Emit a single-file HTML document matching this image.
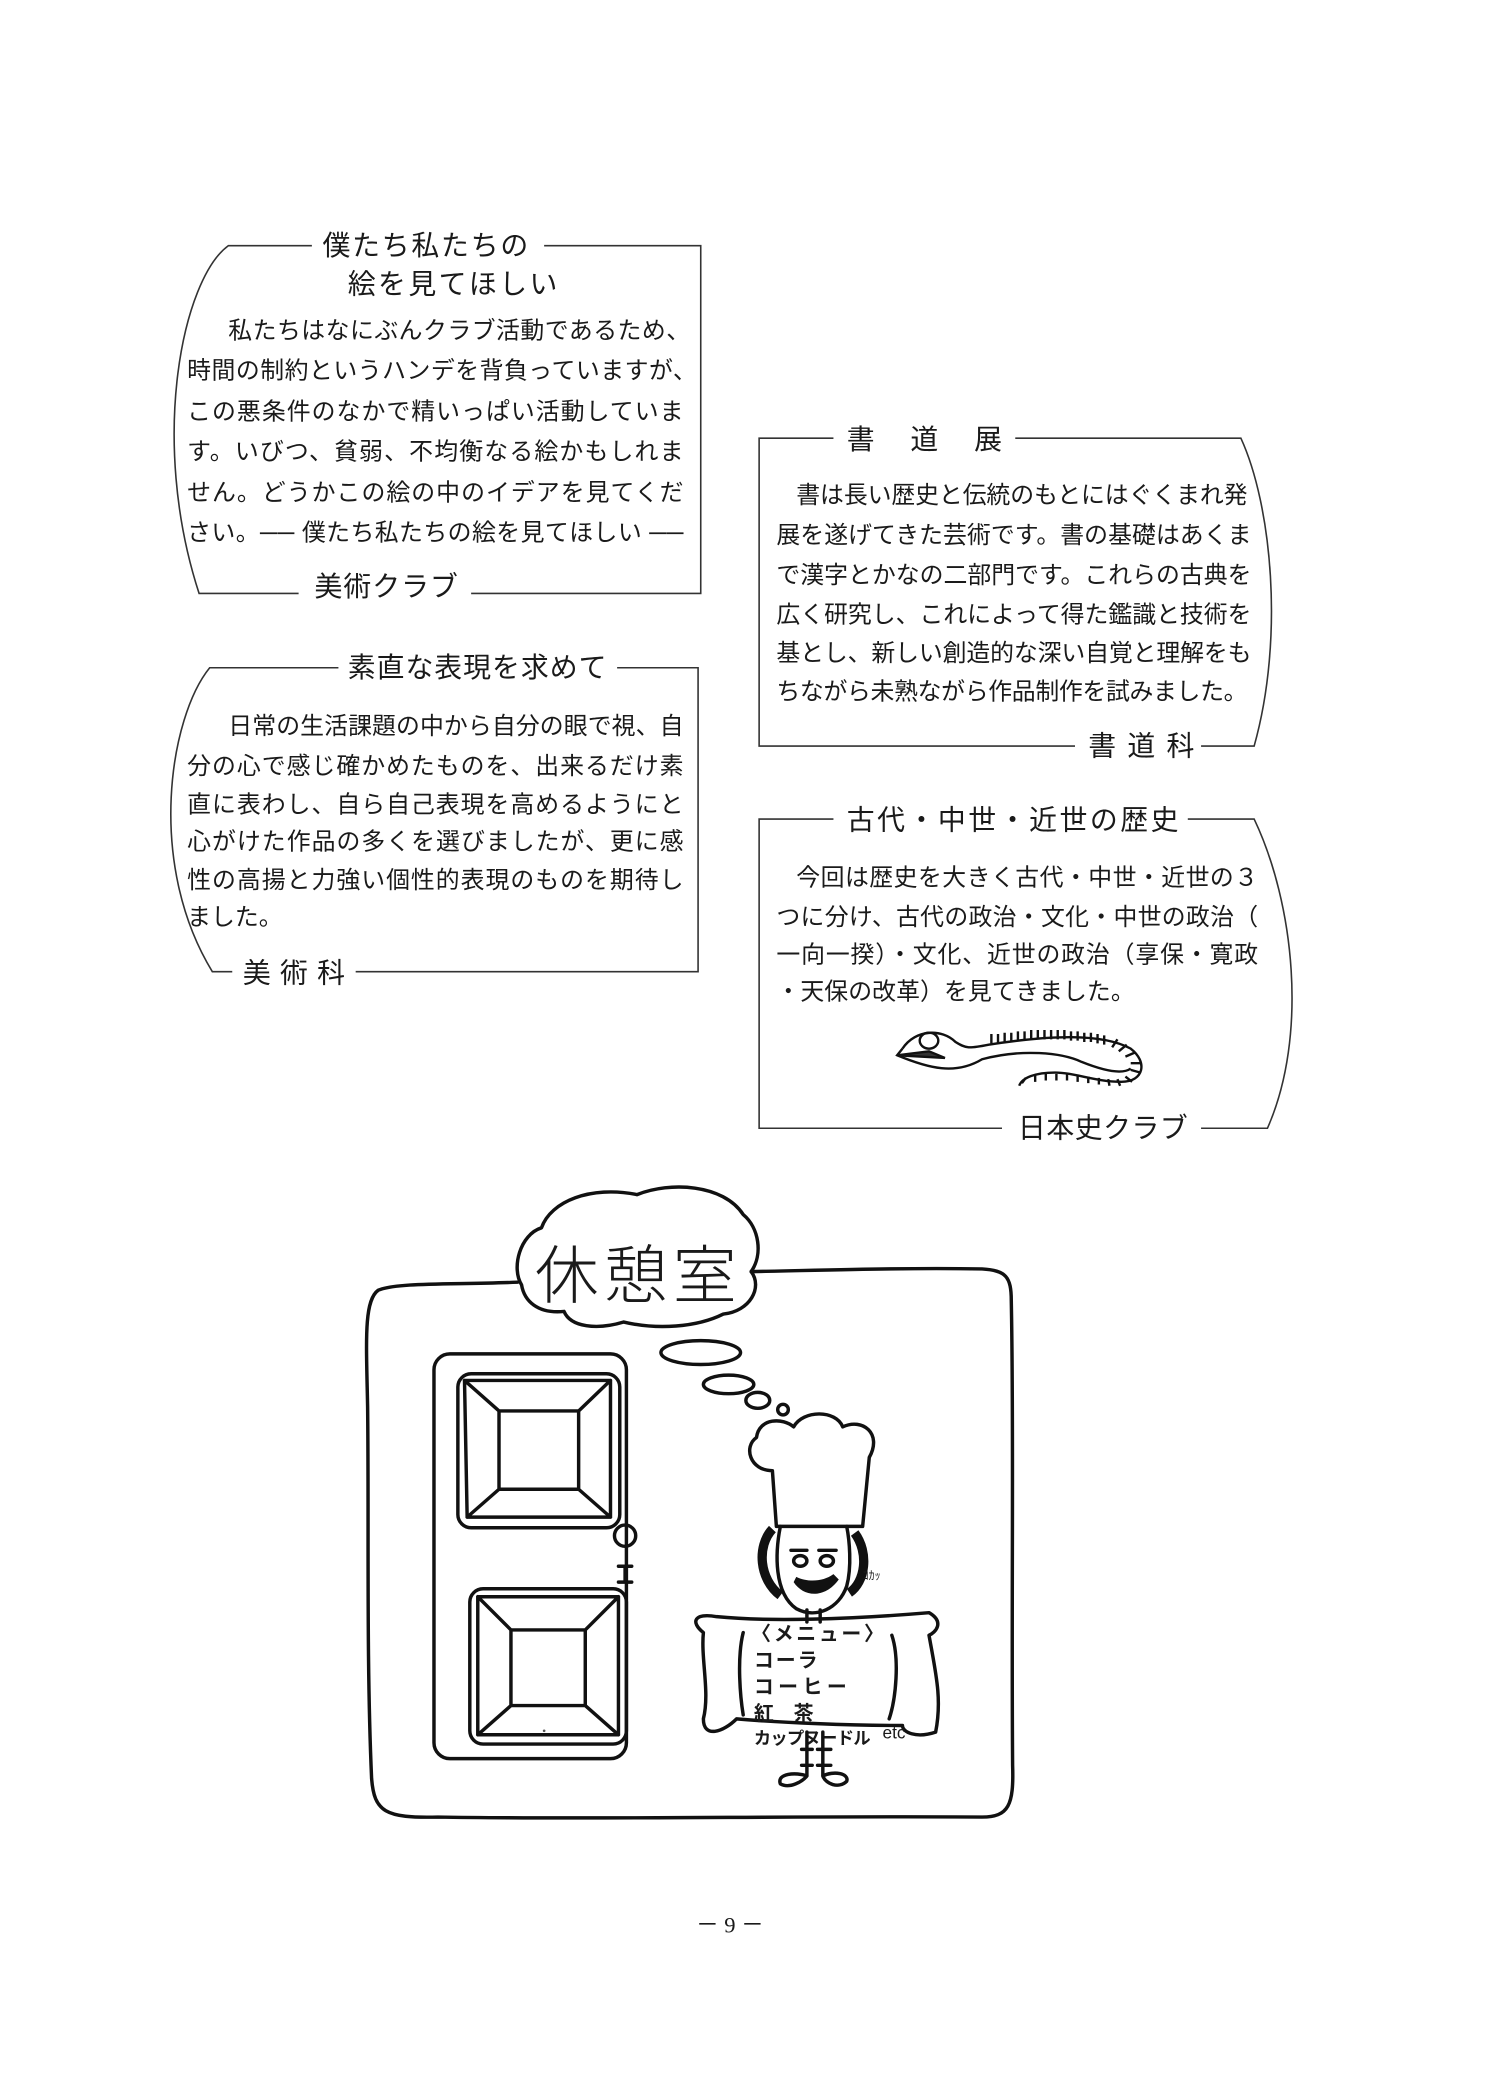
<!DOCTYPE html>
<html><head><meta charset="utf-8"><style>
html,body{margin:0;padding:0;background:#fff;width:1501px;height:2084px;overflow:hidden}
svg{display:block}
text{font-family:"Liberation Sans","Noto Sans CJK JP",sans-serif;fill:#1a1a1a}
.b{font-size:18px}
.t{font-size:21px}
.ln{stroke:#333;stroke-width:1.2;fill:none}
.d{stroke:#111;stroke-width:2.6;fill:none;stroke-linecap:round;stroke-linejoin:round}
</style></head><body>
<svg width="1501" height="2084" viewBox="0 0 1131 1570" xmlns="http://www.w3.org/2000/svg">
<!-- Box 1 -->
<path class="ln" d="M235 185 H172 C138 210,112 330,150 447 H225"/>
<path class="ln" d="M410 185 H528 V447 H355"/>
<text class="t" x="243" y="192" textLength="155" lengthAdjust="spacing">僕たち私たちの</text>
<text class="t" x="262" y="221" textLength="158" lengthAdjust="spacing">絵を見てほしい</text>
<text class="b" x="172" y="255" textLength="348" lengthAdjust="spacing">私たちはなにぶんクラブ活動であるため、</text>
<text class="b" x="141" y="285" textLength="384" lengthAdjust="spacing">時間の制約というハンデを背負っていますが、</text>
<text class="b" x="141" y="316" textLength="374" lengthAdjust="spacing">この悪条件のなかで精いっぱい活動していま</text>
<text class="b" x="141" y="346" textLength="374" lengthAdjust="spacing">す。いびつ、貧弱、不均衡なる絵かもしれま</text>
<text class="b" x="141" y="377" textLength="374" lengthAdjust="spacing">せん。どうかこの絵の中のイデアを見てくだ</text>
<text class="b" x="141" y="407" textLength="374" lengthAdjust="spacing">さい。── 僕たち私たちの絵を見てほしい ──</text>
<text class="t" x="237" y="449" textLength="108" lengthAdjust="spacing">美術クラブ</text>
<!-- Box 2 -->
<path class="ln" d="M255 503 H158 C128 540,110 650,160 732 H175"/>
<path class="ln" d="M465 503 H526 V732 H268"/>
<text class="t" x="262" y="510" textLength="195" lengthAdjust="spacing">素直な表現を求めて</text>
<text class="b" x="172" y="553" textLength="343" lengthAdjust="spacing">日常の生活課題の中から自分の眼で視、自</text>
<text class="b" x="141" y="583" textLength="374" lengthAdjust="spacing">分の心で感じ確かめたものを、出来るだけ素</text>
<text class="b" x="141" y="612" textLength="374" lengthAdjust="spacing">直に表わし、自ら自己表現を高めるようにと</text>
<text class="b" x="141" y="640" textLength="374" lengthAdjust="spacing">心がけた作品の多くを選びましたが、更に感</text>
<text class="b" x="141" y="669" textLength="374" lengthAdjust="spacing">性の高揚と力強い個性的表現のものを期待し</text>
<text class="b" x="141" y="697" textLength="72" lengthAdjust="spacing">ました。</text>
<text class="t" x="183" y="740" textLength="77" lengthAdjust="spacing">美術科</text>
<!-- Box 3 -->
<path class="ln" d="M628 330 H572 V562 H810"/>
<path class="ln" d="M765 330 H935 C958 380,968 480,945 562 H905"/>
<text class="t" x="638" y="338" textLength="117" lengthAdjust="spacing">書道展</text>
<text class="b" x="600" y="379" textLength="340" lengthAdjust="spacing">書は長い歴史と伝統のもとにはぐくまれ発</text>
<text class="b" x="585" y="409" textLength="358" lengthAdjust="spacing">展を遂げてきた芸術です。書の基礎はあくま</text>
<text class="b" x="585" y="439" textLength="358" lengthAdjust="spacing">で漢字とかなの二部門です。これらの古典を</text>
<text class="b" x="585" y="469" textLength="358" lengthAdjust="spacing">広く研究し、これによって得た鑑識と技術を</text>
<text class="b" x="585" y="498" textLength="358" lengthAdjust="spacing">基とし、新しい創造的な深い自覚と理解をも</text>
<text class="b" x="585" y="527" textLength="355" lengthAdjust="spacing">ちながら未熟ながら作品制作を試みました。</text>
<text class="t" x="820" y="569" textLength="80" lengthAdjust="spacing">書道科</text>
<!-- Box 4 -->
<path class="ln" d="M628 617 H572 V850 H755"/>
<path class="ln" d="M895 617 H945 C975 680,986 780,955 850 H905"/>
<text class="t" x="638" y="625" textLength="250" lengthAdjust="spacing">古代・中世・近世の歴史</text>
<text class="b" x="600" y="667" textLength="348" lengthAdjust="spacing">今回は歴史を大きく古代・中世・近世の３</text>
<text class="b" x="585" y="697" textLength="363" lengthAdjust="spacing">つに分け、古代の政治・文化・中世の政治（</text>
<text class="b" x="585" y="725" textLength="363" lengthAdjust="spacing">一向一揆）・文化、近世の政治（享保・寛政</text>
<text class="b" x="585" y="753" textLength="270" lengthAdjust="spacing">・天保の改革）を見てきました。</text>
<text class="t" x="767" y="857" textLength="128" lengthAdjust="spacing">日本史クラブ</text>
<!-- eel -->
<g stroke="#111" fill="none" stroke-width="1.8">
<path d="M680 790 C690 775,710 775,720 785 C728 790,730 790,745 787 C790 780,830 778,852 790 C865 800,862 815,845 815 C825 815,810 808,795 808 C780 808,770 812,768 818"/>
<path d="M680 790 L676 795 C700 805,720 810,740 798 C770 790,800 793,815 800 C830 806,845 810,852 805"/>
<ellipse cx="700" cy="784" rx="7" ry="6"/>
<path d="M676 795 L700 792 L712 797 Z" fill="#333"/>
<path d="M747 786 V779 M752 786 V779 M757 785 V778 M762 785 V778 M767 784 V777 M772 784 V777 M777 783 V776 M782 783 V776 M787 783 V776 M792 783 V776 M797 783 V776 M802 783 V776 M807 784 V777 M812 784 V777 M817 785 V778 M822 785 V778 M827 786 V779 M832 787 V780 M838 789 L842 783 M843 792 L849 787 M848 796 L855 793 M852 801 L859 801 M852 806 L859 808 M848 811 L853 815 M842 813 L844 818 M835 813 L836 818 M828 812 L828 817 M820 811 L820 816 M812 810 L812 815 M804 809 L804 814 M796 809 L796 814 M788 809 L788 814 M780 810 L780 815 M773 812 L770 816"/>
</g>
<!-- illustration frame -->
<path class="d" d="M390 966 C340 968,300 966,285 972 C274 980,276 1010,277 1060 C278 1150,276 1250,280 1340 C282 1365,290 1370,330 1369 C450 1371,600 1368,740 1369 C760 1369,764 1360,763 1330 C762 1200,764 1080,762 980 C762 962,758 957,740 956 C680 955,620 957,566 958"/>
<!-- cloud -->
<path class="d" d="M393 968 C385 955,392 930,408 925 C415 905,445 893,480 900 C505 890,545 892,560 915 C572 925,575 945,566 958 C575 970,565 988,545 990 C525 1000,495 1002,470 996 C450 1002,430 1000,425 988 C405 990,395 980,393 968 Z"/>
<text x="403" y="978" style="font-size:48px;font-family:'Noto Sans CJK JP',sans-serif;font-weight:300" textLength="152" lengthAdjust="spacing">休憩室</text>
<ellipse class="d" cx="528" cy="1019" rx="30" ry="9"/>
<ellipse class="d" cx="549" cy="1043" rx="19" ry="7"/>
<ellipse class="d" cx="571" cy="1055" rx="9" ry="6"/>
<circle class="d" cx="590" cy="1062" r="4"/>
<!-- door -->
<rect class="d" x="327" y="1020" width="145" height="305" rx="12"/>
<rect class="d" x="345" y="1035" width="122" height="116" rx="10"/>
<path class="d" d="M350 1040 H460 V1143 H352 Z M376 1063 H436 V1122 H376 Z M350 1040 L376 1063 M460 1040 L436 1063 M460 1143 L436 1122 M352 1143 L376 1122"/>
<rect class="d" x="354" y="1197" width="118" height="117" rx="10"/>
<path class="d" d="M360 1203 H466 V1307 H360 Z M385 1228 H441 V1285 H385 Z M360 1203 L385 1228 M466 1203 L441 1228 M466 1307 L441 1285 M360 1307 L385 1285"/>
<circle class="d" cx="471" cy="1157" r="8"/>
<path class="d" d="M466 1180 H476 M471 1180 V1192 M466 1192 H476"/>
<!-- chef -->
<path class="d" d="M582 1108 C565 1108,560 1090,570 1083 C572 1068,590 1068,598 1075 C605 1062,630 1062,635 1075 C650 1068,665 1080,655 1098 L650 1150 H585 Z"/>
<path class="d" d="M588 1150 C584 1170,583 1200,600 1212 C615 1220,632 1212,638 1195 C642 1180,640 1160,638 1150"/>
<path d="M582 1152 C570 1165,572 1190,588 1202 M644 1155 C655 1170,652 1192,640 1200" stroke="#111" stroke-width="7" fill="none"/>
<path class="d" d="M596 1168 H608 M617 1168 H630 M598 1176 a5 4 0 1 0 10 0 a5 4 0 1 0 -10 0 M618 1176 a5 4 0 1 0 10 0 a5 4 0 1 0 -10 0"/>
<path d="M598 1192 C606 1204,622 1204,632 1190 L628 1186 C620 1192,608 1192,600 1188 Z" fill="#111"/>
<text x="650" y="1190" style="font-size:9px">ｺｶｯ</text>
<path class="d" d="M608 1213 V1222 M618 1213 V1222"/>
<path class="d" d="M530 1230 C520 1222,523 1215,540 1218 C580 1222,640 1220,700 1215 C712 1222,705 1230,700 1232 C705 1260,710 1280,705 1305 C690 1310,680 1305,680 1300 C640 1300,590 1298,555 1295 C545 1305,530 1310,530 1295 C535 1275,528 1250,530 1230 Z"/>
<path class="d" d="M560 1230 C555 1250,558 1280,560 1292 M672 1232 C678 1250,675 1280,670 1295"/>
<text x="566" y="1236" style="font-size:15px;font-weight:bold" textLength="100" lengthAdjust="spacing">〈メニュー〉</text>
<text x="568" y="1256" style="font-size:15px;font-weight:bold" textLength="48" lengthAdjust="spacing">コーラ</text>
<text x="568" y="1276" style="font-size:15px;font-weight:bold" textLength="70" lengthAdjust="spacing">コーヒー</text>
<text x="568" y="1296" style="font-size:15px;font-weight:bold" textLength="45" lengthAdjust="spacing">紅茶</text>
<text x="568" y="1314" style="font-size:13px;font-weight:bold" textLength="88" lengthAdjust="spacing">カップヌードル</text>
<text x="665" y="1310" style="font-size:13px">etc</text>
<path class="d" d="M608 1305 V1338 M620 1305 V1338 M604 1318 H612 M616 1318 H626 M604 1330 H612 M616 1330 H626 M608 1338 C600 1335,585 1336,588 1344 C595 1348,605 1342,608 1338 M620 1338 C628 1334,640 1336,638 1342 C632 1348,622 1344,620 1338"/>
<circle cx="410" cy="1304" r="1" fill="#555"/>
<!-- page number -->
<text x="550" y="1456" text-anchor="middle" style="font-size:17px;font-family:'Liberation Serif',serif">－ 9 －</text>
</svg>
</body></html>
